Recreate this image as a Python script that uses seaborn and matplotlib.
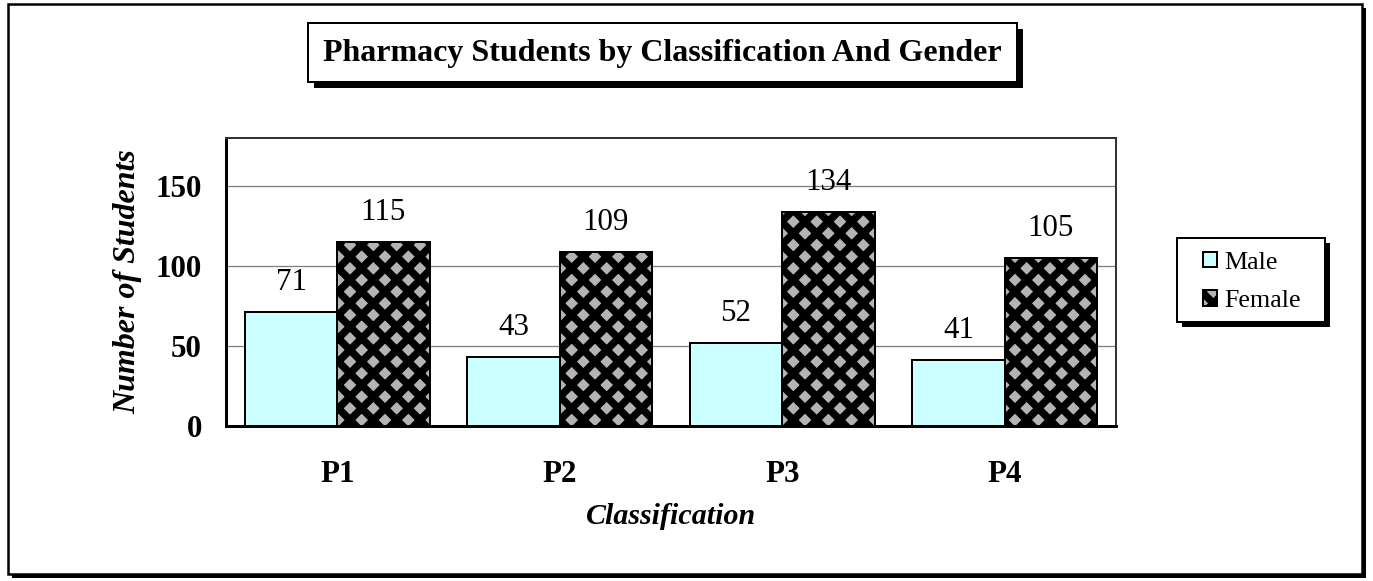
import seaborn as sns
import matplotlib.pyplot as plt
import pandas as pd
from matplotlib.patches import Rectangle, Patch

# Student counts
categories = ["P1", "P2", "P3", "P4"]
male = [71, 43, 52, 41]
female = [115, 109, 134, 105]
y_ticks = [0, 50, 100, 150]

DPI = 140
W, H = 1373, 581


def pt(px):
    # pixel size -> points at this dpi
    return px * 72 / DPI


df = pd.DataFrame({
    "Classification": categories * 2,
    "Students": male + female,
    "Gender": ["Male"] * len(male) + ["Female"] * len(female),
})

sns.set_style("white")
plt.rcParams["font.family"] = ["Liberation Serif", "DejaVu Serif"]
plt.rcParams["text.color"] = "black"
plt.rcParams["axes.labelcolor"] = "black"
plt.rcParams["xtick.color"] = "black"
plt.rcParams["ytick.color"] = "black"
plt.rcParams["hatch.linewidth"] = pt(7.5)

fig = plt.figure(figsize=(W / DPI, H / DPI), dpi=DPI)


def fig_box(x0, y0, x1, y1, shadow, lw=2, z=1):
    # white box with black drop shadow, pixel coords from top-left
    sh = Rectangle(((x0 + shadow) / W, 1 - (y1 + shadow) / H), (x1 - x0) / W, (y1 - y0) / H,
                   transform=fig.transFigure, fc="black", ec="black", lw=0, zorder=z)
    bx = Rectangle((x0 / W, 1 - y1 / H), (x1 - x0) / W, (y1 - y0) / H,
                   transform=fig.transFigure, fc="white", ec="black", lw=pt(lw), zorder=z)
    fig.add_artist(sh)
    fig.add_artist(bx)


# outer frame, behind everything
fig_box(8, 4, 1362, 574, 4, lw=2.5, z=-5)

ax = fig.add_axes([226 / W, 1 - 426 / H, (1116 - 226) / W, (426 - 138) / H])
ax.set_facecolor("white")

sns.barplot(data=df, x="Classification", y="Students", hue="Gender",
            palette={"Male": "#CCFFFF", "Female": "#B4B4B4"}, saturation=1,
            width=0.83, edgecolor="black", linewidth=pt(2), legend=False,
            ax=ax, zorder=3)

for bar in ax.containers[1]:
    bar.set_hatch("xx")

for cont in ax.containers:
    ax.bar_label(cont, padding=pt(15), fontsize=pt(31))

ax.set_ylim(0, 180)
ax.set_xlim(-0.5, 3.5)
ax.yaxis.grid(True, color="#808080", lw=pt(1.3))
ax.set_axisbelow(True)

ax.set_yticks(y_ticks, labels=[str(v) for v in y_ticks], fontsize=pt(31), fontweight="bold")
ax.tick_params(axis="y", direction="in", length=pt(11), width=pt(1.5), pad=pt(24))

ax.set_xticks(range(len(categories)), labels=categories, fontsize=pt(31), fontweight="bold")
ax.tick_params(axis="x", which="major", length=0, pad=pt(34))
ax.set_xticks([0.5, 1.5, 2.5], minor=True)
ax.tick_params(axis="x", which="minor", direction="out", length=pt(7), width=pt(1.5))

ax.set_xlabel("Classification", fontsize=pt(30), fontweight="bold", fontstyle="italic")
ax.set_ylabel("Number of Students", fontsize=pt(32), fontweight="bold", fontstyle="italic")
ax.xaxis.label.set_va("center")
ax.yaxis.label.set_va("center")
ax.xaxis.set_label_coords(0.5, -(517 - 426) / 288)
ax.yaxis.set_label_coords((128 - 226) / 890, 0.5)

for side in ["left", "bottom"]:
    ax.spines[side].set_color("black")
    ax.spines[side].set_linewidth(pt(3))
for side in ["top", "right"]:
    ax.spines[side].set_color("#333333")
    ax.spines[side].set_linewidth(pt(2))

# title box
fig_box(308, 23, 1017, 82, 6)
fig.text((308 + 1017) / 2 / W, 1 - 53 / H, "Pharmacy Students by Classification And Gender",
         ha="center", va="center", fontsize=pt(32), fontweight="bold", zorder=2)

# legend box
fig_box(1177, 238, 1325, 322, 5)
handles = [Patch(fc="#CCFFFF", ec="black", lw=pt(2)),
           Patch(fc="#B4B4B4", ec="black", lw=pt(2), hatch="xx")]
leg = fig.legend(handles, ["Male", "Female"], loc="center", bbox_to_anchor=(1252 / W, 1 - 282 / H),
                 frameon=False, fontsize=pt(26), handlelength=0.55, handleheight=0.55,
                 handletextpad=0.3, labelspacing=0.65)
leg.set_zorder(2)

fig.savefig("out.png", dpi=DPI)
